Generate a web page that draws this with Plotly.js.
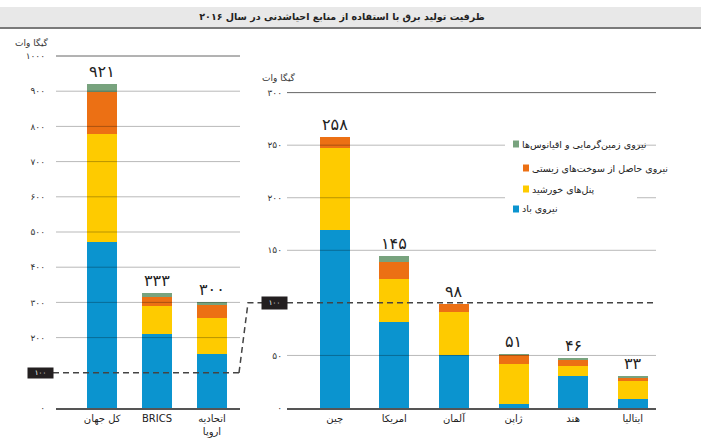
<!DOCTYPE html>
<html>
<head>
<meta charset="utf-8">
<script src="https://cdn.plot.ly/plotly-3.0.1.min.js"></script>
<style>
  body { margin: 0; background: #fff; }
  #chart { width: 701px; height: 447px; }
</style>
</head>
<body>
<div id="chart"></div>
<script>
// groups (left panel)
const groupCats = ["کل جهان", "BRICS", "اتحادیه<br>اروپا"];
const groupWind = [472, 209, 153];
const groupSolar = [306, 80, 103];
const groupBio = [119, 27, 36];
const groupGeo = [24, 10, 8];
const groupTotals = [921, 333, 300];

// countries (right panel)
const countryCats = ["چین", "امریکا", "آلمان", "ژاپن", "هند", "ایتالیا"];
const countryWind = [169, 82, 50, 3.5, 30, 9];
const countrySolar = [78, 41, 41, 38, 9.5, 16.7];
const countryBio = [11, 16, 7.5, 9, 6.5, 2.8];
const countryGeo = [0, 6, 0, 1, 1.3, 2];
const countryTotals = [258, 145, 98, 51, 46, 33];

const groupTicks = [0, 200, 300, 400, 500, 600, 700, 800, 900, 1000];
const countryTicks = [0, 50, 150, 200, 250, 300];
const markValue = 100;

const seriesNames = [
    "نیروی زمین‌گرمایی و اقیانوس‌ها",
    "نیروی حاصل از سوخت‌های زیستی",
    "پنل‌های خورشید",
    "نیروی باد",
];
const colors = {
    wind: "#0b94cf",
    solar: "#fecb00",
    bio: "#ec7014",
    geo: "#78a37e",
};

const FONT = "DejaVu Sans, sans-serif";
const W = 701;
const plotTop = 50;
const plotBottom = 408;
const R1 = (plotBottom - plotTop) / 0.352;
const R2 = (plotBottom - plotTop) / 1.0513;

function fa(n) {
    return String(n).replace(/\d/g, (d) => "۰۱۲۳۴۵۶۷۸۹"[d]);
}
function py(p) {
    return (plotBottom - p) / (plotBottom - plotTop);
}

function stack(cats, vals, color, name, xa, ya, width) {
    return {
        type: "bar",
        x: cats,
        y: vals,
        name: name,
        marker: { color: color, line: { width: 0 } },
        width: width,
        xaxis: xa,
        yaxis: ya,
        showlegend: false,
        hoverinfo: "skip",
    };
}

const data = [];
const left = [
    [groupWind, colors.wind],
    [groupSolar, colors.solar],
    [groupBio, colors.bio],
    [groupGeo, colors.geo],
];
const right = [
    [countryWind, colors.wind],
    [countrySolar, colors.solar],
    [countryBio, colors.bio],
    [countryGeo, colors.geo],
];
left.forEach((s, i) =>
    data.push(stack(groupCats, s[0], s[1], seriesNames[3 - i], "x", "y", 0.546)),
);
right.forEach((s, i) =>
    data.push(stack(countryCats, s[0], s[1], seriesNames[3 - i], "x2", "y2", 0.503)),
);

function sums(arrs) {
    return arrs[0].map((_, i) => arrs.reduce((a, b) => a + b[i], 0));
}
const groupTops = sums([groupWind, groupSolar, groupBio, groupGeo]);
const countryTops = sums([countryWind, countrySolar, countryBio, countryGeo]);

const annotations = [];
groupCats.forEach((c, i) =>
    annotations.push({
        x: c, y: groupTops[i], xref: "x", yref: "y",
        text: fa(groupTotals[i]), showarrow: false,
        xanchor: "center", yanchor: "bottom", yshift: 1,
        font: { family: FONT, size: 16, color: "#222" },
    }),
);
countryCats.forEach((c, i) =>
    annotations.push({
        x: c, y: countryTops[i], xref: "x2", yref: "y2",
        text: fa(countryTotals[i]), showarrow: false,
        xanchor: "center", yanchor: "bottom", yshift: 1,
        font: { family: FONT, size: 16, color: "#222" },
    }),
);

// unit labels
annotations.push(
    { x: 32 / W, y: py(42), xref: "paper", yref: "paper", text: "گیگا وات", showarrow: false,
      xanchor: "center", yanchor: "middle",
      font: { family: FONT, size: 9, color: "#333" } },
    { x: 279 / W, y: py(77), xref: "paper", yref: "paper", text: "گیگا وات", showarrow: false,
      xanchor: "center", yanchor: "middle",
      font: { family: FONT, size: 9, color: "#333" } },
);

// 100 marker boxes
annotations.push(
    { x: 40.5 / W, y: markValue, xref: "paper", yref: "y", text: fa(markValue), showarrow: false,
      xanchor: "center", yanchor: "middle",
      bgcolor: "#231f20", width: 25, height: 10, borderpad: 0,
      font: { family: FONT, size: 7, color: "#fff" } },
    { x: 274.5 / W, y: markValue, xref: "paper", yref: "y2", text: fa(markValue), showarrow: false,
      xanchor: "center", yanchor: "middle",
      bgcolor: "#231f20", width: 25, height: 12, borderpad: 0,
      font: { family: FONT, size: 7, color: "#fff" } },
);

// legend (top to bottom: geo, bio, solar, wind)
const legendColors = [colors.geo, colors.bio, colors.solar, colors.wind];
const legendY = [144, 168, 189, 209];
const legendX = [513, 523, 523, 513];

const shapes = [];
// title band
shapes.push(
    { type: "rect", xref: "paper", yref: "paper", x0: 0, x1: 1, y0: py(27), y1: py(7),
      fillcolor: "#e8e8e8", line: { width: 0 }, layer: "below" },
    { type: "line", xref: "paper", yref: "paper", x0: 0, x1: 1, y0: py(28), y1: py(28),
      line: { color: "#7a7a7a", width: 2 } },
);
// grid lines drawn over the bars
groupTicks.filter((t) => t > 0).forEach((t, i, a) =>
    shapes.push({
        type: "line", xref: "x domain", yref: "y", x0: 0, x1: 1, y0: t, y1: t, layer: "above",
        line: { color: i === a.length - 1 ? "#666" : "rgba(0,0,0,0.28)", width: 1 },
    }),
);
countryTicks.filter((t) => t > 0).forEach((t, i, a) =>
    shapes.push({
        type: "line", xref: "x2 domain", yref: "y2", x0: 0, x1: 1, y0: t, y1: t, layer: "above",
        line: { color: i === a.length - 1 ? "#666" : "rgba(0,0,0,0.28)", width: 1 },
    }),
);
// legend background
shapes.push({
    type: "rect", xref: "paper", yref: "paper", x0: 505 / W, x1: 637 / W, y0: py(216), y1: py(136),
    fillcolor: "#fff", line: { width: 0 }, layer: "above",
});
legendColors.forEach((c, i) => {
    shapes.push({
        type: "rect", xref: "paper", yref: "paper",
        x0: legendX[i] / W, x1: (legendX[i] + 6) / W,
        y0: py(legendY[i] + 3.5), y1: py(legendY[i] - 3.5),
        fillcolor: c, line: { width: 0 }, layer: "above",
    });
    annotations.push({
        x: (legendX[i] + 7) / W, y: py(legendY[i]), xref: "paper", yref: "paper",
        xanchor: "left", yanchor: "middle", text: seriesNames[i], showarrow: false,
        font: { family: FONT, size: 9.5, color: "#222" },
    });
});
// dashed 100 connector
const dash = { color: "#444", width: 1.5, dash: "6px,4px" };
shapes.push(
    { type: "line", xref: "paper", yref: "y", x0: 53 / W, x1: 239 / W, y0: markValue, y1: markValue,
      line: dash, layer: "above" },
    { type: "path", xref: "paper", yref: "paper",
      path: `M ${239 / W},${markValue / R1} L ${248 / W},${markValue / R2} L ${262 / W},${markValue / R2}`,
      line: dash, layer: "above" },
    { type: "line", xref: "paper", yref: "y2", x0: 287 / W, x1: 656 / W, y0: markValue, y1: markValue,
      line: dash, layer: "above" },
);

const xCommon = {
    type: "category",
    showgrid: false,
    zeroline: false,
    showline: true,
    linecolor: "#555",
    linewidth: 2,
    ticks: "",
    tickfont: { family: FONT, size: 10, color: "#222" },
    fixedrange: true,
};
const yCommon = {
    showgrid: false,
    zeroline: false,
    showline: false,
    ticks: "",
    tickfont: { family: FONT, size: 9, color: "#333" },
    fixedrange: true,
};

const layout = {
    width: 701,
    height: 447,
    margin: { l: 0, r: 0, t: plotTop, b: 447 - plotBottom },
    paper_bgcolor: "#fff",
    plot_bgcolor: "rgba(0,0,0,0)",
    barmode: "stack",
    showlegend: false,
    title: {
        text: "<b>ظرفیت تولید برق با استفاده از منابع احیاشدنی در سال ۲۰۱۶</b>",
        x: 342 / W, xanchor: "center",
        y: 1 - 17 / 447, yanchor: "middle", yref: "container",
        font: { family: FONT, size: 9.5, color: "#222" },
    },
    xaxis: Object.assign({}, xCommon, {
        domain: [56 / W, 240 / W], range: [-0.84, 2.51], anchor: "y",
    }),
    xaxis2: Object.assign({}, xCommon, {
        domain: [287 / W, 656 / W], range: [-0.8, 5.39], anchor: "y2",
    }),
    yaxis: Object.assign({}, yCommon, {
        range: [0, R1], anchor: "x",
        tickvals: groupTicks, ticktext: groupTicks.map(fa), ticklabelstandoff: 10,
    }),
    yaxis2: Object.assign({}, yCommon, {
        range: [0, R2], anchor: "x2",
        tickvals: countryTicks, ticktext: countryTicks.map(fa), ticklabelstandoff: 4,
    }),
    shapes: shapes,
    annotations: annotations,
};

Plotly.newPlot("chart", data, layout, { staticPlot: true, displayModeBar: false });
</script>
</body>
</html>
